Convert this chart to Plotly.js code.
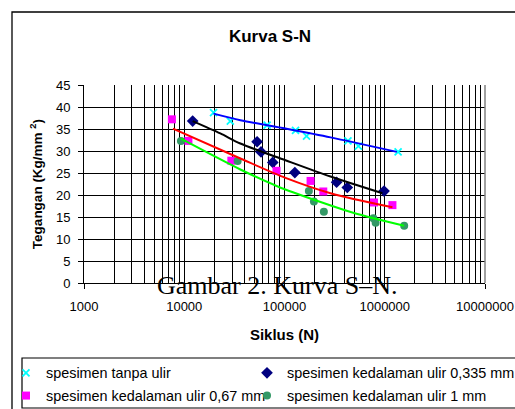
<!DOCTYPE html>
<html>
<head>
<meta charset="utf-8">
<script src="https://cdn.plot.ly/plotly-3.0.1.min.js"></script>
<style>
  html, body { margin: 0; padding: 0; background: #fff; }
  #chart { width: 515px; height: 409px; }
</style>
</head>
<body>
<div id="chart"></div>
<script>
// ---- data ----
const seriesNames = [
  "spesimen tanpa ulir",
  "spesimen kedalaman ulir 0,335 mm",
  "spesimen kedalaman ulir 0,67 mm",
  "spesimen kedalaman ulir 1 mm"
];

// spesimen tanpa ulir (cyan x)
const tanpaN = [19600, 28800, 67100, 128800, 165900, 429500, 546000, 1359000];
const tanpaS = [38.7, 36.8, 35.9, 34.7, 33.4, 32.3, 31.1, 29.8];

// spesimen kedalaman ulir 0,335 mm (navy diamond)
const d0335N = [12130, 53300, 58300, 76400, 126800, 331000, 423000, 984000];
const d0335S = [36.8, 32.1, 29.8, 27.4, 25.1, 22.9, 21.7, 20.9];

// spesimen kedalaman ulir 0,67 mm (magenta square)
const d067N = [7530, 11000, 29500, 83200, 182000, 243700, 781000, 1193000];
const d067S = [37.2, 32.3, 27.8, 25.5, 23.2, 20.8, 18.3, 17.7];

// spesimen kedalaman ulir 1 mm (green circle)
const d1N = [9270, 34100, 175000, 196500, 247000, 770000, 811000, 1563000];
const d1S = [32.3, 27.7, 20.9, 18.5, 16.2, 14.7, 13.7, 13.0];

// trend lines
const trendTanpaN = [19600, 36300, 102300, 288400, 1320000];
const trendTanpaS = [38.5, 37.0, 35.1, 33.1, 29.8];
const trend0335N = [12130, 22900, 36300, 102300, 288000, 948000];
const trend0335S = [36.8, 34.0, 31.7, 27.9, 24.2, 20.4];
const trend067N = [7710, 36300, 102300, 288000, 1193000];
const trend067S = [35.1, 28.3, 23.9, 20.4, 17.2];
const trend1N = [9270, 36300, 84500, 229000, 493000, 1563000];
const trend1S = [32.8, 25.8, 22.0, 18.4, 15.9, 13.0];

const xTickVals = [1000, 10000, 100000, 1000000, 10000000];
const xTickText = ["1000", "10000", "100000", "1000000", "10000000"];

const chartTitle = "Kurva S-N";
const xTitle = "Siklus (N)";
const yTitle = "Tegangan (Kg/mm <sup>2</sup>)";
const caption = "Gambar 2. Kurva S\u2013N.";

// ---- traces ----
const FONT = "Liberation Sans, Arial, sans-serif";

const traces = [
  { x: tanpaN, y: tanpaS, name: seriesNames[0], type: "scatter", mode: "markers",
    legend: "legend", legendgroup: "a",
    marker: { symbol: "x-thin", size: 7, color: "#00FFFF", line: { color: "#00FFFF", width: 1.8 } } },
  { x: d0335N, y: d0335S, name: seriesNames[1], type: "scatter", mode: "markers",
    legend: "legend2", legendgroup: "b",
    marker: { symbol: "diamond", size: 9, color: "#000080" } },
  { x: d067N, y: d067S, name: seriesNames[2], type: "scatter", mode: "markers",
    legend: "legend", legendgroup: "c",
    marker: { symbol: "square", size: 8, color: "#FF00FF" } },
  { x: d1N, y: d1S, name: seriesNames[3], type: "scatter", mode: "markers",
    legend: "legend2", legendgroup: "d",
    marker: { symbol: "circle", size: 8, color: "#339966" } },
  { x: trendTanpaN, y: trendTanpaS, type: "scatter", mode: "lines", showlegend: false, hoverinfo: "skip",
    line: { color: "#0000FF", width: 2, shape: "spline", smoothing: 0.8 } },
  { x: trend0335N, y: trend0335S, type: "scatter", mode: "lines", showlegend: false, hoverinfo: "skip",
    line: { color: "#000000", width: 2, shape: "spline", smoothing: 0.8 } },
  { x: trend067N, y: trend067S, type: "scatter", mode: "lines", showlegend: false, hoverinfo: "skip",
    line: { color: "#FF0000", width: 2, shape: "spline", smoothing: 0.8 } },
  { x: trend1N, y: trend1S, type: "scatter", mode: "lines", showlegend: false, hoverinfo: "skip",
    line: { color: "#00FF00", width: 2, shape: "spline", smoothing: 0.8 } }
];

const legendCommon = {
  orientation: "v", xanchor: "left", yanchor: "top",
  y: (283 - 357) / 198,
  itemwidth: 30, tracegroupgap: 1,
  font: { family: FONT, size: 14.4, color: "#000" },
  bgcolor: "rgba(0,0,0,0)", borderwidth: 0, traceorder: "grouped"
};

const layout = {
  width: 515, height: 409,
  margin: { l: 84, r: 30, t: 85, b: 126, autoexpand: false },
  paper_bgcolor: "#ffffff", plot_bgcolor: "#ffffff",
  font: { family: FONT, color: "#000000", size: 13 },
  title: { text: chartTitle, font: { family: FONT, size: 17, weight: "bold", color: "#000" },
           x: 270 / 515, xanchor: "center", xref: "container",
           y: 1 - 36 / 409, yanchor: "middle", yref: "container" },
  showlegend: true,
  legend: Object.assign({}, legendCommon, { x: (6 - 84) / 401 }),
  legend2: Object.assign({}, legendCommon, { x: (247 - 84) / 401 }),
  xaxis: {
    type: "log", range: [3, 7],
    tickmode: "array", tickvals: xTickVals, ticktext: xTickText,
    ticks: "outside", ticklen: 5, tickcolor: "#000", tickwidth: 1,
    ticklabelstandoff: 6,
    tickfont: { family: FONT, size: 13, color: "#000" },
    showgrid: true, gridcolor: "#000", gridwidth: 1,
    minor: { dtick: "D1", showgrid: true, gridcolor: "#000", gridwidth: 1, ticks: "" },
    showline: true, linecolor: "#000", linewidth: 1, zeroline: false,
    title: { text: xTitle, font: { family: FONT, size: 15, weight: "bold", color: "#000" }, standoff: 16 },
    fixedrange: true
  },
  yaxis: {
    range: [0, 45], dtick: 5, tick0: 0,
    ticks: "outside", ticklen: 5, tickcolor: "#000", tickwidth: 1,
    ticklabelstandoff: 5,
    tickfont: { family: FONT, size: 13, color: "#000" },
    showgrid: true, gridcolor: "#000", gridwidth: 1,
    showline: true, linecolor: "#000", linewidth: 1, zeroline: false,
    title: { text: yTitle, font: { family: FONT, size: 13.5, weight: "bold", color: "#000" }, standoff: 10 },
    fixedrange: true
  },
  shapes: [
    // outer chart frame (extends past the page on right/bottom as in the reference)
    { type: "rect", xref: "paper", yref: "paper",
      x0: (12 - 84) / 401, x1: (530 - 84) / 401, y0: (283 - 430) / 198, y1: (283 - 12) / 198,
      line: { color: "#000", width: 1.3 }, fillcolor: "rgba(0,0,0,0)", layer: "below" },
    // plot area right border (grey)
    { type: "line", xref: "paper", yref: "paper", x0: 1, x1: 1, y0: 0, y1: 1,
      line: { color: "#808080", width: 1.5 } },
    // legend box
    { type: "rect", xref: "paper", yref: "paper",
      x0: (22 - 84) / 401, x1: (530 - 84) / 401, y0: (283 - 408) / 198, y1: (283 - 358) / 198,
      line: { color: "#000", width: 1.2 }, fillcolor: "rgba(0,0,0,0)", layer: "below" }
  ],
  annotations: [
    { text: caption, xref: "paper", yref: "paper",
      x: (277 - 84) / 401, y: (283 - 285) / 198, xanchor: "center", yanchor: "middle",
      showarrow: false, font: { family: "Liberation Serif, Times New Roman, serif", size: 26, color: "#000" } }
  ]
};

Plotly.newPlot("chart", traces, layout, { staticPlot: true, displayModeBar: false });
</script>
</body>
</html>
